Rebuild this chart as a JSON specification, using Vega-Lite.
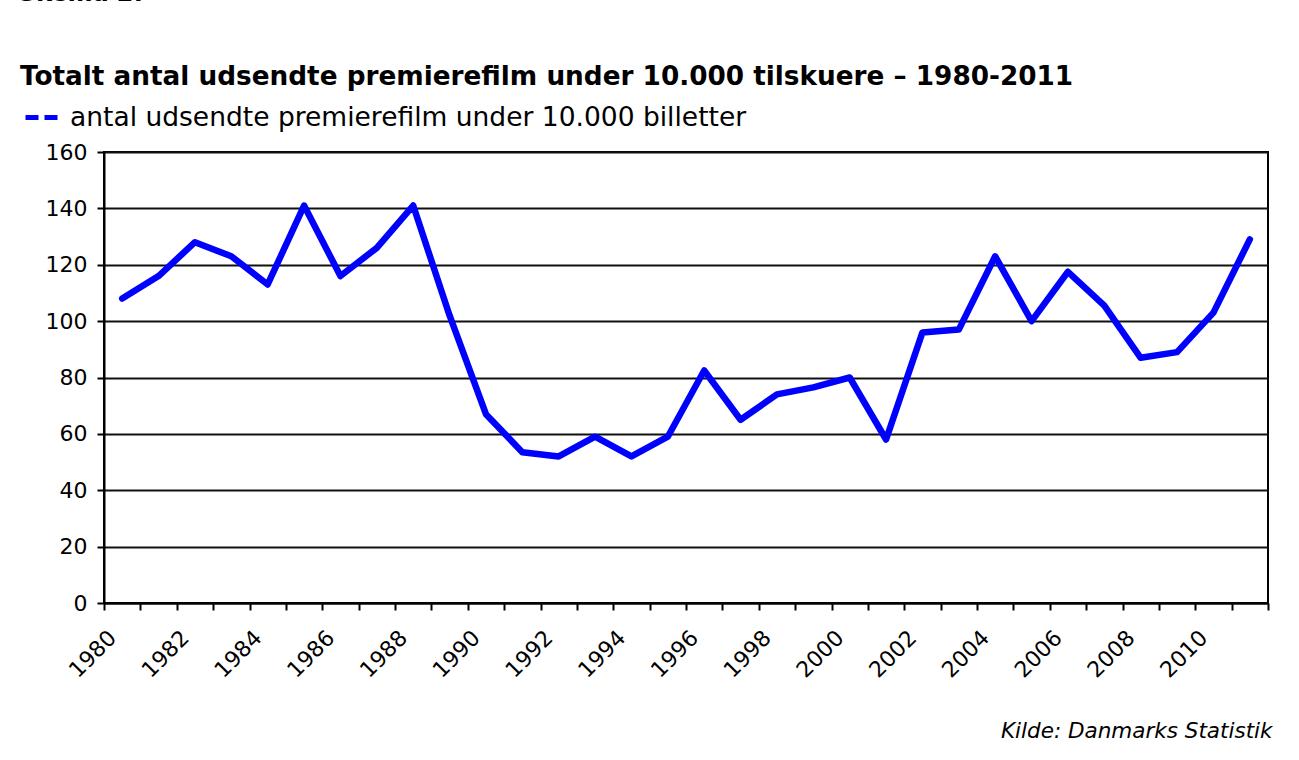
{
  "$schema": "https://vega.github.io/schema/vega-lite/v6.json",
  "width": 1164,
  "height": 451,
  "autosize": {"type": "none"},
  "padding": {"left": 104, "top": 152, "right": 31, "bottom": 157},
  "background": "white",
  "config": {"font": "DejaVu Sans", "view": {"stroke": "black", "strokeWidth": 2}},
  "title": {
    "text": "Skema 2.",
    "subtitle": "Totalt antal udsendte premierefilm under 10.000 tilskuere – 1980-2011",
    "anchor": "start",
    "frame": "group",
    "dx": -84,
    "font": "DejaVu Sans",
    "fontSize": 24,
    "fontWeight": "bold",
    "fontStyle": "italic",
    "color": "black",
    "subtitleFont": "DejaVu Sans",
    "subtitleFontSize": 26.3,
    "subtitleFontWeight": "bold",
    "subtitleColor": "black",
    "subtitlePadding": 58,
    "offset": 9
  },
  "data": {
    "values": [
      {"year": 1980, "antal": 108},
      {"year": 1981, "antal": 116},
      {"year": 1982, "antal": 128},
      {"year": 1983, "antal": 123},
      {"year": 1984, "antal": 113},
      {"year": 1985, "antal": 141},
      {"year": 1986, "antal": 116},
      {"year": 1987, "antal": 126},
      {"year": 1988, "antal": 141},
      {"year": 1989, "antal": 102},
      {"year": 1990, "antal": 67},
      {"year": 1991, "antal": 53.5},
      {"year": 1992, "antal": 52},
      {"year": 1993, "antal": 59},
      {"year": 1994, "antal": 52},
      {"year": 1995, "antal": 59},
      {"year": 1996, "antal": 82.5},
      {"year": 1997, "antal": 65},
      {"year": 1998, "antal": 74},
      {"year": 1999, "antal": 76.5},
      {"year": 2000, "antal": 80},
      {"year": 2001, "antal": 58},
      {"year": 2002, "antal": 96},
      {"year": 2003, "antal": 97},
      {"year": 2004, "antal": 123},
      {"year": 2005, "antal": 100},
      {"year": 2006, "antal": 117.5},
      {"year": 2007, "antal": 105.5},
      {"year": 2008, "antal": 87},
      {"year": 2009, "antal": 89},
      {"year": 2010, "antal": 103},
      {"year": 2011, "antal": 129}
    ]
  },
  "mark": {"type": "line", "strokeWidth": 6.5, "strokeCap": "round", "strokeJoin": "round"},
  "encoding": {
    "x": {
      "field": "year",
      "type": "ordinal",
      "bandPosition": 0.5,
      "scale": {"type": "band", "paddingInner": 0, "paddingOuter": 0},
      "axis": {
        "title": "Kilde: Danmarks Statistik",
        "titleFont": "DejaVu Sans",
        "titleFontStyle": "italic",
        "titleFontWeight": "normal",
        "titleFontSize": 21.5,
        "titleColor": "black",
        "titleAnchor": "end",
        "titleAlign": "right",
        "titleBaseline": "alphabetic",
        "titleX": 1168,
        "titleY": 134,
        "labelAngle": -45,
        "labelAlign": "right",
        "labelBaseline": "middle",
        "labelExpr": "datum.value % 2 == 0 ? datum.label : ''",
        "labelFont": "DejaVu Sans",
        "labelFontSize": 22,
        "labelColor": "black",
        "labelPadding": 24,
        "labelOffset": -10,
        "labelOverlap": false,
        "tickBand": "extent",
        "tickColor": "black",
        "tickWidth": 2,
        "tickSize": 7,
        "domainColor": "black",
        "domainWidth": 2,
        "grid": false
      }
    },
    "y": {
      "field": "antal",
      "type": "quantitative",
      "scale": {"domain": [0, 160], "nice": false},
      "axis": {
        "title": null,
        "values": [0, 20, 40, 60, 80, 100, 120, 140, 160],
        "grid": true,
        "gridColor": "#111111",
        "gridWidth": 2,
        "gridOpacity": 1,
        "domainColor": "black",
        "domainWidth": 2,
        "tickColor": "black",
        "tickWidth": 2,
        "tickSize": 7,
        "labelFont": "DejaVu Sans",
        "labelFontSize": 22,
        "labelColor": "black",
        "labelPadding": 10
      }
    },
    "color": {
      "datum": "antal udsendte premierefilm under 10.000 billetter",
      "type": "nominal",
      "scale": {"range": ["#0000FF"]},
      "legend": {
        "title": null,
        "orient": "none",
        "legendX": -81,
        "legendY": -53,
        "padding": 0,
        "symbolType": "stroke",
        "symbolStrokeWidth": 5,
        "symbolDash": [13, 6],
        "symbolSize": 1024,
        "labelFont": "DejaVu Sans",
        "labelFontSize": 26.5,
        "labelColor": "black",
        "labelOffset": 10,
        "labelLimit": 1000
      }
    }
  }
}
